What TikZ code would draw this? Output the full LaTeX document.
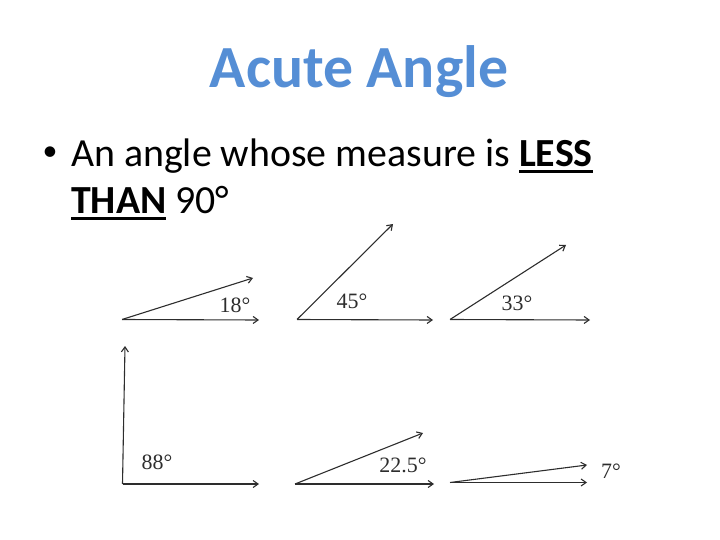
\documentclass[tikz,border=0pt]{standalone}
\usepackage{fontspec}
\setmainfont{Carlito}
\newfontfamily\timesf{Liberation Serif}
\usetikzlibrary{arrows.meta}
\definecolor{titleblue}{RGB}{85,142,213}
\definecolor{rayc}{RGB}{45,45,45}
\newcommand\myul[1]{\setbox0\hbox{#1}\rlap{\rule[-6bp]{\wd0}{2.5bp}}\box0}
\begin{document}
\begin{tikzpicture}[x=1bp,y=-1bp,
  ray/.style={draw=rayc, line width=1.1bp, -{Straight Barb[length=5bp,width=7bp]}},
  lab/.style={font=\timesf\fontsize{22}{22}\selectfont, text=rayc, inner sep=0pt},
  body/.style={font=\fontsize{40}{40}\selectfont, anchor=base west, inner sep=0pt}]
\useasboundingbox (0,0) rectangle (720,540);
\node[font=\bfseries\fontsize{60}{60}\selectfont, text=titleblue, anchor=base, inner sep=0pt] (title) at (359,88) {Acute Angle};
\node[font=\fontsize{30}{30}\selectfont, inner sep=0pt] (bul) at (50,154) {•};
\node[body] (l1) at (71,167) {An angle whose measure is \textbf{\myul{LESS}}};
\node[body] (l2) at (71,214) {\textbf{\myul{THAN}} 90°};
% 18
\coordinate (v1) at (122,319.5);
\coordinate (b1) at (259,320);
\coordinate (u1) at (253,278);
\draw[ray] (v1) -- (b1);
\draw[ray] (v1) -- (u1);
\node[lab] (t1) at (235,305) {18°};
% 45
\coordinate (v2) at (297,319.5);
\coordinate (b2) at (433,320);
\coordinate (u2) at (393,224);
\draw[ray] (v2) -- (b2);
\draw[ray] (v2) -- (u2);
\node[lab] (t2) at (352,301) {45°};
% 33
\coordinate (v3) at (450,319.5);
\coordinate (b3) at (590,320);
\coordinate (u3) at (566,245);
\draw[ray] (v3) -- (b3);
\draw[ray] (v3) -- (u3);
\node[lab] (t3) at (517,303) {33°};
% 88
\coordinate (v4) at (122.5,484);
\coordinate (b4) at (259,484);
\coordinate (u4) at (125,346);
\draw[ray] (v4) -- (b4);
\draw[ray] (v4) -- (u4);
\node[lab] (t4) at (157,462) {88°};
% 22.5
\coordinate (v5) at (295,484);
\coordinate (b5) at (434,484);
\coordinate (u5) at (423,433);
\draw[ray] (v5) -- (b5);
\draw[ray] (v5) -- (u5);
\node[lab] (t5) at (403,465) {22.5°};
% 7
\coordinate (v6) at (450,482.5);
\coordinate (b6) at (587,482.5);
\coordinate (u6) at (587,465);
\draw[ray] (v6) -- (b6);
\draw[ray] (v6) -- (u6);
\node[lab] (t6) at (611,471) {7°};
\end{tikzpicture}
\end{document}
